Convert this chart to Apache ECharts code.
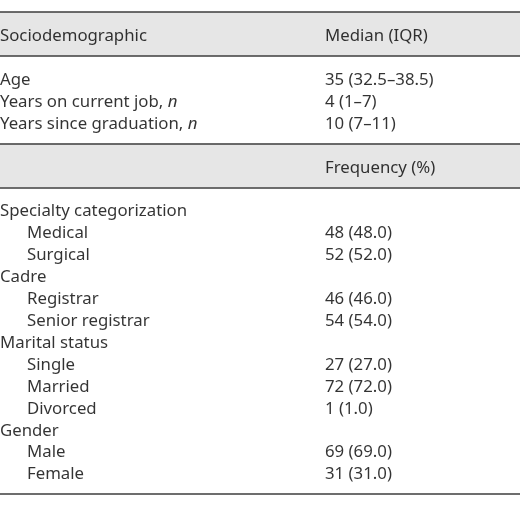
<!DOCTYPE html>
<html>
<head>
<meta charset="utf-8">
<script src="https://cdn.jsdelivr.net/npm/echarts@6/dist/echarts.min.js"></script>
<style>
  html, body { margin: 0; padding: 0; background: #fff; }
  #main { width: 520px; height: 525px; }
</style>
</head>
<body>
<div id="main"></div>
<script>
// table content
var headLeft = 'Sociodemographic';
var headMedian = 'Median (IQR)';
var headFreq = 'Frequency (%)';
var medianLabels = ['Age', 'Years on current job, {i|n}', 'Years since graduation, {i|n}'];
var medianValues = ['35 (32.5–38.5)', '4 (1–7)', '10 (7–11)'];
var groups = ['Specialty categorization', 'Cadre', 'Marital status', 'Gender'];
var groupItems = [['Medical', 'Surgical'], ['Registrar', 'Senior registrar'], ['Single', 'Married', 'Divorced'], ['Male', 'Female']];
var counts = [[48, 52], [46, 54], [27, 72, 1], [69, 31]];
var percents = [[48.0, 52.0], [46.0, 54.0], [27.0, 72.0, 1.0], [69.0, 31.0]];

// row slots (y axis units), x columns
var colLeft = 0, colIndent = 27, colRight = 325;
var ruleRows = [0, 2, 6, 8, 22];
var bandRows = [[0, 2], [6, 8]];

var cells = [];
cells.push([colLeft, 1, headLeft]);
cells.push([colRight, 1, headMedian]);
var r = 3;
for (var i = 0; i < medianLabels.length; i++) {
  cells.push([colLeft, r, medianLabels[i]]);
  cells.push([colRight, r, medianValues[i]]);
  r++;
}
cells.push([colRight, 7, headFreq]);
r = 9;
for (var g = 0; g < groups.length; g++) {
  cells.push([colLeft, r, groups[g]]);
  r++;
  for (var k = 0; k < groupItems[g].length; k++) {
    cells.push([colIndent, r, groupItems[g][k]]);
    cells.push([colRight, r, counts[g][k] + ' (' + percents[g][k].toFixed(1) + ')']);
    r++;
  }
}

var myChart = echarts.init(document.getElementById('main'));
var font = '"Noto Sans", sans-serif';
var option = {
  animation: false,
  grid: { left: 0, right: 0, top: 12, bottom: 31 },
  xAxis: { type: 'value', min: 0, max: 520, show: false },
  yAxis: { type: 'value', min: 0, max: 22, inverse: true, show: false },
  series: [{
    type: 'scatter',
    silent: true,
    symbolSize: 0,
    data: cells,
    label: {
      show: true,
      position: 'right',
      distance: 0,
      offset: [0, 2.5],
      color: '#000',
      fontFamily: font,
      fontSize: 16.8,
      formatter: function (p) { return p.data[2]; },
      rich: {
        i: { fontStyle: 'italic', color: '#000', fontFamily: font, fontSize: 16.8 }
      }
    },
    markArea: {
      silent: true,
      itemStyle: { color: '#e6e6e6' },
      data: bandRows.map(function (b) { return [{ yAxis: b[0] }, { yAxis: b[1] }]; })
    },
    markLine: {
      silent: true,
      symbol: 'none',
      label: { show: false },
      lineStyle: { color: '#3c3c3c', width: 1.5, type: 'solid' },
      data: ruleRows.map(function (y) { return { yAxis: y }; })
    }
  }]
};
myChart.setOption(option);
</script>
</body>
</html>
